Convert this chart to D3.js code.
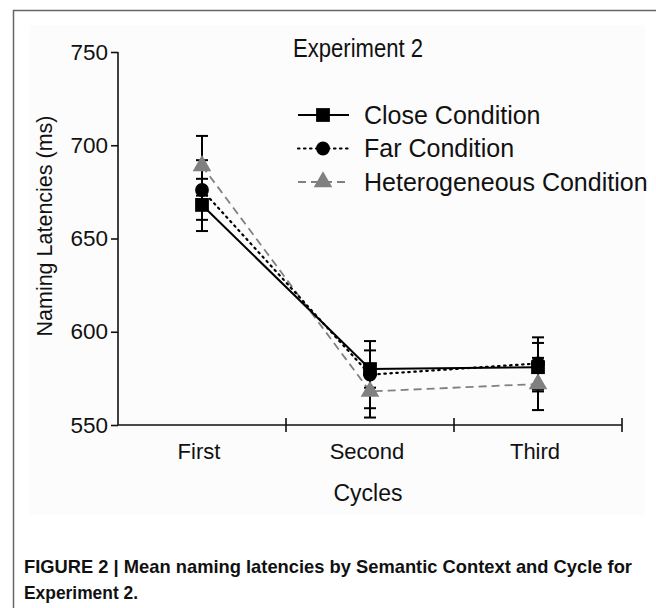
<!DOCTYPE html>
<html>
<head>
<meta charset="utf-8">
<script src="https://cdn.jsdelivr.net/npm/d3@7"></script>
<style>
  body { margin: 0; background: #fff; }
  svg { display: block; }
</style>
</head>
<body>
<div id="canvas"></div>
<script>
const cycles = ["First", "Second", "Third"];
const closeMean = [668, 580, 581];
const closeErr = [14, 10, 13];
const farMean = [676, 577, 583];
const farErr = [16, 18, 14];
const hetMean = [689, 568, 572];
const hetErr = [16, 14, 14];
const yTicks = [550, 600, 650, 700, 750];
const seriesNames = ["Close Condition", "Far Condition", "Heterogeneous Condition"];

const width = 656;
const height = 608;
const svg = d3.select("#canvas").append("svg")
  .attr("width", width)
  .attr("height", height);

// frame + faint panel
svg.append("rect").attr("x", 30).attr("y", 25).attr("width", 615).attr("height", 490).attr("fill", "#fcfcfc");
svg.append("path").attr("d", "M13.5,608V10.5H656").attr("fill", "none").attr("stroke", "#666").attr("stroke-width", 1.5);

const x = d3.scaleLinear().domain([0.5, 3.5]).range([118, 622]);
const y = d3.scaleLinear().domain([550, 750]).range([425, 52]);

const font = "Liberation Sans, Arial, sans-serif";

// y axis
const gy = svg.append("g").attr("transform", "translate(118,0)")
  .call(d3.axisLeft(y).tickValues(yTicks).tickSize(7).tickPadding(3).tickFormat(d3.format("d")));
gy.selectAll("text").style("font-family", font).style("font-size", "22.5px").attr("fill", "#111");
gy.selectAll("line, path").attr("stroke", "#111").attr("stroke-width", 1.6);
gy.select(".domain").attr("d", `M0,${y(750)}V${y(550)}`);

// x axis
const gx = svg.append("g").attr("transform", `translate(0,${y(550)})`);
gx.append("line").attr("x1", x(0.5)).attr("x2", x(3.5)).attr("stroke", "#111").attr("stroke-width", 1.6);
gx.selectAll(".tk").data([1.5, 2.5, 3.5]).enter().append("line")
  .attr("x1", d => x(d)).attr("x2", d => x(d)).attr("y1", -7).attr("y2", 7)
  .attr("stroke", "#111").attr("stroke-width", 1.6);
gx.selectAll(".lbl").data(cycles).enter().append("text")
  .attr("x", (d, i) => x(i + 1) - 3).attr("y", 34)
  .attr("text-anchor", "middle").style("font-family", font).style("font-size", "22px").attr("fill", "#111")
  .text(d => d);

svg.append("text").attr("x", 368).attr("y", 501).attr("text-anchor", "middle")
  .style("font-family", font).style("font-size", "23px").attr("fill", "#111").text("Cycles");
svg.append("text").attr("transform", "translate(52,226) rotate(-90)").attr("text-anchor", "middle")
  .style("font-family", font).style("font-size", "21.5px").attr("fill", "#111").text("Naming Latencies (ms)");
svg.append("text").attr("x", 293).attr("y", 57)
  .attr("textLength", 130).attr("lengthAdjust", "spacingAndGlyphs")
  .style("font-family", font).style("font-size", "25px").attr("fill", "#111").text("Experiment 2");

const series = [
  { name: seriesNames[0], mean: closeMean, err: closeErr, color: "#000", dash: null, w: 2, shape: d3.symbolSquare, size: 190 },
  { name: seriesNames[1], mean: farMean, err: farErr, color: "#000", dash: "1.5,4.5", w: 2.2, shape: d3.symbolCircle, size: 150 },
  { name: seriesNames[2], mean: hetMean, err: hetErr, color: "#808080", dash: "8,5", w: 1.8, shape: d3.symbolTriangle, size: 150 }
];

const line = d3.line().x((d, i) => x(i + 1)).y(d => y(d));

// lines
series.slice().reverse().forEach(s => {
  svg.append("path").attr("d", line(s.mean)).attr("fill", "none")
    .attr("stroke", s.color).attr("stroke-width", s.w)
    .attr("stroke-dasharray", s.dash).attr("stroke-linecap", s.dash === "1.5,4.5" ? "round" : "butt");
});

// error bars
series.forEach(s => {
  const g = svg.append("g");
  s.mean.forEach((m, i) => {
    const cx = x(i + 1);
    g.append("line").attr("x1", cx).attr("x2", cx).attr("y1", y(m - s.err[i])).attr("y2", y(m + s.err[i]))
      .attr("stroke", "#000").attr("stroke-width", 2);
    [m - s.err[i], m + s.err[i]].forEach(v => {
      g.append("line").attr("x1", cx - 6).attr("x2", cx + 6).attr("y1", y(v)).attr("y2", y(v))
        .attr("stroke", "#000").attr("stroke-width", 2);
    });
  });
});

// markers
series.slice().reverse().forEach(s => {
  svg.selectAll(null).data(s.mean).enter().append("path")
    .attr("transform", (d, i) => `translate(${x(i + 1)},${y(d)})`)
    .attr("d", d3.symbol().type(s.shape).size(s.size))
    .attr("fill", s.color);
});

// legend
const leg = svg.append("g");
series.forEach((s, i) => {
  const ly = 115 + i * 33.5;
  leg.append("line").attr("x1", 298).attr("x2", 349).attr("y1", ly).attr("y2", ly)
    .attr("stroke", s.color).attr("stroke-width", s.w).attr("stroke-dasharray", s.dash)
    .attr("stroke-linecap", s.dash === "1.5,4.5" ? "round" : "butt");
  leg.append("path").attr("transform", `translate(323,${ly})`)
    .attr("d", d3.symbol().type(s.shape).size(s.size)).attr("fill", s.color);
  leg.append("text").attr("x", 364).attr("y", ly + 8.5)
    .style("font-family", font).style("font-size", "25px").attr("fill", "#111").text(s.name);
});

// caption
const cap = svg.append("g").style("font-family", "'Liberation Sans Narrow', 'Liberation Sans', Arial, sans-serif")
  .style("font-size", "18.5px").style("font-weight", "bold").attr("fill", "#111");
cap.append("text").attr("x", 24).attr("y", 573).attr("textLength", 608).attr("lengthAdjust", "spacingAndGlyphs")
  .text("FIGURE 2 | Mean naming latencies by Semantic Context and Cycle for");
cap.append("text").attr("x", 24).attr("y", 599).attr("textLength", 114).attr("lengthAdjust", "spacingAndGlyphs")
  .text("Experiment 2.");
</script>
</body>
</html>
